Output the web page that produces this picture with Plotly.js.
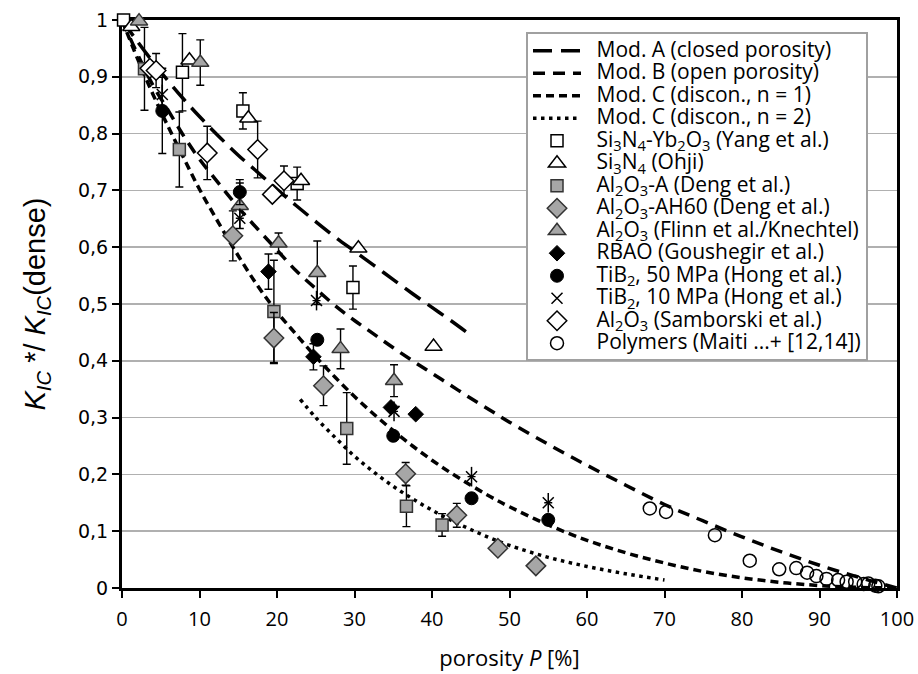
<!DOCTYPE html>
<html><head><meta charset="utf-8">
<script src="https://cdn.plot.ly/plotly-3.0.1.min.js"></script>
<style>html,body{margin:0;padding:0;background:#fff}#chart{width:918px;height:674px}</style>
</head><body><div id="chart"></div>
<script>
// ---- model curves ----
const modA_P = [0, 2, 4, 6, 8, 10, 12.5, 15, 17.5, 20, 22.5, 25, 27.5, 30, 32.5, 35, 37.5, 40, 42.5, 44.5];
const modA_K = [1, 0.962, 0.926, 0.892, 0.86, 0.83, 0.795, 0.762, 0.732, 0.702, 0.673, 0.645, 0.618, 0.593, 0.568, 0.543, 0.518, 0.494, 0.47, 0.45];

const modB_P = [0, 2, 4, 6, 8, 10, 12.5, 15, 17.5, 20, 22.5, 25, 27.5, 30, 32.5, 35, 37.5, 40, 42.5, 45, 47.5, 50, 55, 60, 65, 70, 75, 80, 85, 90, 95, 100];
const modB_K = [1, 0.94, 0.885, 0.84, 0.795, 0.755, 0.712, 0.67, 0.632, 0.595, 0.558, 0.527, 0.497, 0.471, 0.447, 0.423, 0.4, 0.378, 0.356, 0.334, 0.313, 0.292, 0.253, 0.216, 0.181, 0.147, 0.118, 0.09, 0.064, 0.04, 0.019, 0];

const modC1_P = [0, 2, 4, 6, 8, 10, 12.5, 15, 17.5, 20, 22.5, 25, 27.5, 30, 32.5, 35, 37.5, 40, 42.5, 45, 47.5, 50, 55, 60, 65, 70, 75, 80, 85, 90, 95, 100];
const modC1_K = [1, 0.932, 0.869, 0.811, 0.756, 0.702, 0.642, 0.585, 0.532, 0.486, 0.446, 0.407, 0.371, 0.337, 0.306, 0.277, 0.25, 0.225, 0.202, 0.181, 0.161, 0.143, 0.111, 0.084, 0.062, 0.044, 0.029, 0.018, 0.0099, 0.0043, 0.001, 0];

const modC2_P = [23, 25, 27.5, 30, 32.5, 35, 37.5, 40, 42.5, 45, 47.5, 50, 55, 60, 65, 70];
const modC2_K = [0.332, 0.3, 0.265, 0.232, 0.204, 0.179, 0.157, 0.137, 0.119, 0.103, 0.088, 0.075, 0.054, 0.038, 0.025, 0.014];

// ---- measured data ----
const yang_P = [0.2, 7.8, 15.6, 22.6, 29.8];
const yang_K = [1.0, 0.908, 0.840, 0.712, 0.529];
const yang_E = [0, 0.068, 0.032, 0.029, 0.038];

const ohji_P = [1.2, 8.7, 16.3, 23.1, 30.5, 40.2];
const ohji_K = [0.988, 0.929, 0.827, 0.717, 0.598, 0.425];

const dengA_P = [2.9, 7.4, 19.6, 29.0, 36.7, 41.3];
const dengA_K = [0.914, 0.772, 0.487, 0.281, 0.144, 0.111];
const dengA_E = [0.073, 0.066, 0.09, 0.063, 0.036, 0.02];

const dengAH_P = [14.3, 19.6, 26.0, 36.6, 43.2, 48.5, 53.4];
const dengAH_K = [0.62, 0.44, 0.356, 0.201, 0.128, 0.07, 0.039];
const dengAH_E = [0.044, 0.045, 0.035, 0.02, 0.021, 0.01, 0.005];

const flinn_P = [2.2, 10.1, 15.2, 20.2, 25.2, 28.2, 35.1];
const flinn_K = [0.998, 0.925, 0.673, 0.607, 0.555, 0.421, 0.365];
const flinn_E = [0, 0.04, 0.04, 0.018, 0.056, 0.035, 0.028];

const rbao_P = [18.9, 24.7, 34.7, 37.9];
const rbao_K = [0.557, 0.407, 0.318, 0.306];
const rbao_E = [0.031, 0.023, 0, 0];

const tib50_P = [5.2, 15.2, 25.2, 35.0, 45.1, 55.0];
const tib50_K = [0.84, 0.697, 0.437, 0.268, 0.158, 0.12];
const tib50_E = [0.075, 0.022, 0, 0, 0, 0];

const tib10_P = [5.2, 15.2, 25.1, 35.1, 45.1, 55.0];
const tib10_K = [0.869, 0.651, 0.506, 0.311, 0.196, 0.150];
const tib10_E = [0.03, 0, 0, 0, 0, 0];

const samb_P = [3.6, 4.4, 11.0, 17.5, 19.4, 20.9];
const samb_K = [0.915, 0.911, 0.766, 0.772, 0.693, 0.717];
const samb_E = [0, 0.03, 0.047, 0.05, 0, 0.026];

const poly_P = [68.1, 70.2, 76.5, 81.0, 84.8, 87.0, 88.4, 89.6, 90.9, 92.4, 93.5, 94.6, 95.7, 96.3, 97.2, 97.6];
const poly_K = [0.140, 0.134, 0.093, 0.048, 0.033, 0.035, 0.027, 0.021, 0.016, 0.014, 0.011, 0.011, 0.007, 0.008, 0.004, 0.003];

const xTickVals = [0, 10, 20, 30, 40, 50, 60, 70, 80, 90, 100];
const xTickText = ['0', '10', '20', '30', '40', '50', '60', '70', '80', '90', '100'];
const yTickVals = [0, 0.1, 0.2, 0.3, 0.4, 0.5, 0.6, 0.7, 0.8, 0.9, 1];
const yTickText = ['0', '0,1', '0,2', '0,3', '0,4', '0,5', '0,6', '0,7', '0,8', '0,9', '1'];

const legendNames = [
  'Mod. A (closed porosity)',
  'Mod. B (open porosity)',
  'Mod. C (discon., n = 1)',
  'Mod. C (discon., n = 2)',
  'Si<sub>3</sub>N<sub>4</sub>-Yb<sub>2</sub>O<sub>3</sub> (Yang et al.)',
  'Si<sub>3</sub>N<sub>4</sub> (Ohji)',
  'Al<sub>2</sub>O<sub>3</sub>-A (Deng et al.)',
  'Al<sub>2</sub>O<sub>3</sub>-AH60 (Deng et al.)',
  'Al<sub>2</sub>O<sub>3</sub> (Flinn et al./Knechtel)',
  'RBAO (Goushegir et al.)',
  'TiB<sub>2</sub>, 50 MPa (Hong et al.)',
  'TiB<sub>2</sub>, 10 MPa (Hong et al.)',
  'Al<sub>2</sub>O<sub>3</sub> (Samborski et al.)',
  'Polymers (Maiti ...+ [12,14])'
];

const LEGFS = 21;
function nm(i){ return '<span style="font-size:' + LEGFS + 'px">\u2002' + legendNames[i] + '</span>'; }

const GRAY = '#a6a6a6', DARK = '#333333';
function eb(arr){ return {type:'data', array:arr, visible:true, color:'#000', thickness:1.4, width:4}; }
function lineTrace(x, y, dash, i){
  return {x:x, y:y, mode:'lines', name:nm(i), line:{color:'#000', width:3.5, dash:dash, shape:'spline'}, hoverinfo:'skip'};
}
function mkTrace(x, y, err, i, symbol, size, fill, lc, lw){
  const t = {x:x, y:y, mode:'markers', name:nm(i), cliponaxis:false,
    marker:{symbol:symbol, size:size, color:fill, line:{color:lc, width:lw}}};
  if (err) t.error_y = eb(err);
  return t;
}

const data = [
  lineTrace(modA_P, modA_K, '19px,9px', 0),
  lineTrace(modB_P, modB_K, '12px,8px', 1),
  lineTrace(modC1_P, modC1_K, '8px,5px', 2),
  lineTrace(modC2_P, modC2_K, '3.5px,4.5px', 3),
  mkTrace(yang_P, yang_K, yang_E, 4, 'square', 12, '#fff', '#000', 1.5),
  mkTrace(ohji_P, ohji_K, null, 5, 'triangle-up', 15, '#fff', '#000', 1.5),
  mkTrace(dengA_P, dengA_K, dengA_E, 6, 'square', 12, GRAY, DARK, 1.5),
  mkTrace(dengAH_P, dengAH_K, dengAH_E, 7, 'diamond', 15, GRAY, DARK, 1.5),
  mkTrace(flinn_P, flinn_K, flinn_E, 8, 'triangle-up', 15, GRAY, DARK, 1.5),
  mkTrace(rbao_P, rbao_K, rbao_E, 9, 'diamond', 12, '#000', '#000', 1),
  mkTrace(tib50_P, tib50_K, tib50_E, 10, 'circle', 13, '#000', '#000', 1),
  mkTrace(tib10_P, tib10_K, tib10_E, 11, 'x-thin-open', 11, '#000', '#000', 1.5),
  mkTrace(samb_P, samb_K, samb_E, 12, 'diamond', 15, '#fff', '#000', 1.5),
  mkTrace(poly_P, poly_K, null, 13, 'circle-open', 13, '#000', '#000', 1.5),
  {x:tib10_P, y:tib10_K, mode:'markers', showlegend:false, cliponaxis:false, hoverinfo:'skip',
    marker:{symbol:'line-ns-open', size:14, color:'#000', line:{color:'#000', width:1.5}}}
];

const tickFontX = {family:'"Open Sans", sans-serif', size:20, color:'#000'};
const tickFontY = {family:'"DejaVu Sans", Verdana, sans-serif', size:19, color:'#000'};

const layout = {
  width:918, height:674,
  margin:{l:122, r:21, t:20, b:86},
  paper_bgcolor:'#fff', plot_bgcolor:'#fff',
  showlegend:true,
  xaxis:{range:[0,100], tickmode:'array', tickvals:xTickVals, ticktext:xTickText,
    ticks:'outside', ticklen:7, tickwidth:2, tickcolor:'#000', ticklabelstandoff:4,
    showline:true, linewidth:3, linecolor:'#000', mirror:true, layer:'below traces',
    showgrid:false, zeroline:false, tickfont:tickFontX,
    title:{text:'porosity <i>P</i> [%]', font:{family:'"Open Sans", sans-serif', size:22, color:'#000'}, standoff:20}},
  yaxis:{range:[0,1], tickmode:'array', tickvals:yTickVals, ticktext:yTickText,
    ticks:'outside', ticklen:7, tickwidth:2, tickcolor:'#000',
    showline:true, linewidth:3, linecolor:'#000', mirror:true, layer:'below traces',
    showgrid:true, gridcolor:'#b0b0b0', gridwidth:1.5, zeroline:false, tickfont:tickFontY,
    title:{text:'<i>K<sub>IC</sub></i> */ <i>K<sub>IC</sub></i>(dense)', font:{family:'"Liberation Sans", Arial, sans-serif', size:29, color:'#000'}, standoff:24}},
  legend:{x:0.5213, y:0.978, xanchor:'left', yanchor:'top', bgcolor:'#fff',
    bordercolor:'#a0a0a0', borderwidth:2, font:{family:'"Open Sans", sans-serif', size:15, color:'#000'},
    itemwidth:48, tracegroupgap:0, traceorder:'normal'}
};

Plotly.newPlot('chart', data, layout, {displayModeBar:false, staticPlot:true});
</script>
</body></html>
